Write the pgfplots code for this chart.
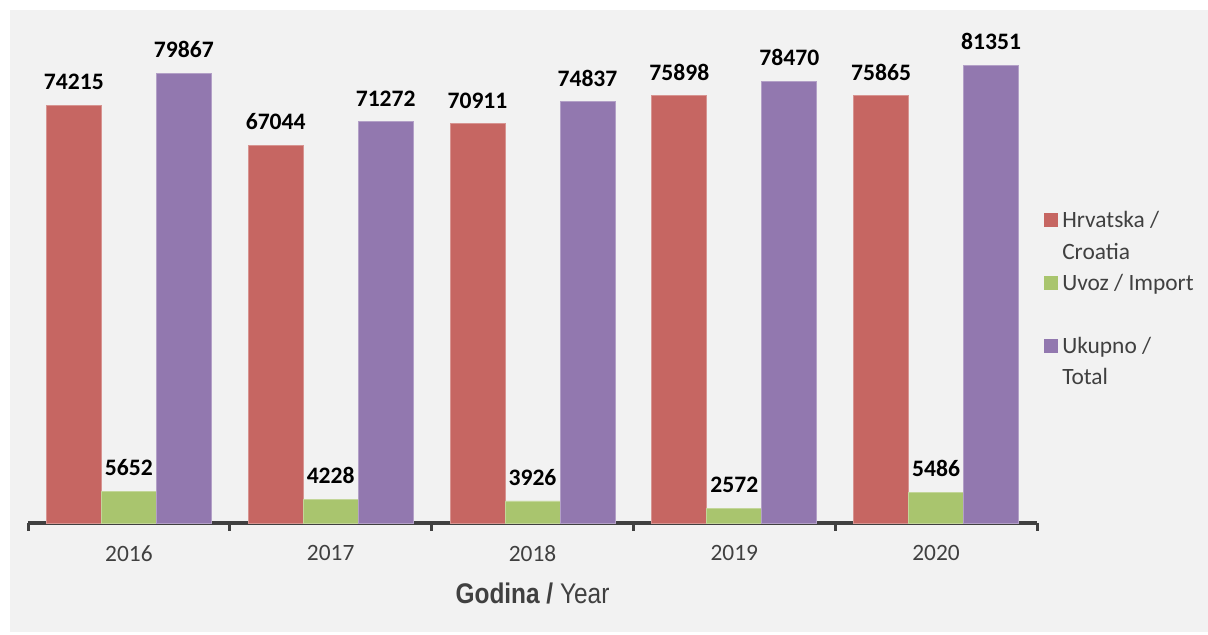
\documentclass[border=0pt]{standalone}
\usepackage{fontspec}
\setmainfont{Carlito}
\newfontfamily\arialfont{Liberation Sans}
\usepackage{pgfplots}
\pgfplotsset{compat=1.18}
\definecolor{bgc}{HTML}{F2F2F2}
\definecolor{axc}{HTML}{404040}
\definecolor{cred}{HTML}{C66662}
\definecolor{cgreen}{HTML}{A9C56E}
\definecolor{cpurple}{HTML}{9278AF}
\begin{document}
\begin{tikzpicture}
\path[use as bounding box] (0,0) rectangle (604pt,317pt);
\fill[white] (0,0) rectangle (604pt,317pt);
\fill[bgc] (5pt,1pt) rectangle (604pt,312pt);
\begin{axis}[
  at={(14pt,55.5pt)}, anchor=south west,
  scale only axis,
  width=504.5pt, height=253.35pt,
  xmin=-0.5, xmax=4.5, ymin=0, ymax=90000,
  enlargelimits=false,
  axis x line=bottom, axis y line=none,
  x axis line style={-, draw=axc, line width=2.4pt},
  xtick={-0.5,0.5,1.5,2.5,3.5,4.5},
  x tick label as interval,
  xticklabels={2016,2017,2018,2019,2020},
  xtick style={draw=axc, line width=1.5pt},
  tick align=outside, major tick length=3.8pt,
  xticklabel style={font=\fontsize{11.7}{14}\selectfont, text=axc, yshift=-4pt},
  xlabel={\scalebox{0.86}[1]{\arialfont\fontsize{14.2}{16}\selectfont\textbf{Godina /} Year}},
  xlabel style={text=axc, yshift=-3.5pt},
  ybar=0pt, bar width=27.5pt,
  nodes near coords,
  every node near coord/.append style={font=\bfseries\fontsize{11.8}{14}\selectfont, text=black, anchor=south, inner sep=0pt, yshift=7.5pt},
  /pgf/number format/.cd, 1000 sep={}, assume math mode=true, /pgfplots/.cd,
  legend style={at={(rel axis cs:1.007,0.623)}, anchor=north west, draw=none, fill=none, inner sep=0pt,
    font=\fontsize{11.7}{15}\selectfont, text=axc, row sep=1.2pt,
    nodes={text height=8pt, text depth=2.5pt},
    cells={anchor=base west}},
]
\addplot[fill=cred, draw=cred!70!white, line width=0.4pt, forget plot, bar shift=-27.5pt] coordinates {(0,74215) (1,67044) (2,70911) (3,75898) (4,75865)};
\addplot[fill=cgreen, draw=cgreen!70!white, line width=0.4pt, forget plot, bar shift=0pt] coordinates {(0,5652) (1,4228) (2,3926) (3,2572) (4,5486)};
\addplot[fill=cpurple, draw=cpurple!70!white, line width=0.4pt, forget plot, bar shift=27.5pt] coordinates {(0,79867) (1,71272) (2,74837) (3,78470) (4,81351)};
\addlegendimage{fill=cred, legend image code/.code={\fill[cred] (0pt,0.5pt) rectangle (6.5pt,7pt);}}
\addlegendentry{Hrvatska /}
\addlegendimage{empty legend}
\addlegendentry{Croatia}
\addlegendimage{fill=cgreen, legend image code/.code={\fill[cgreen] (0pt,0.5pt) rectangle (6.5pt,7pt);}}
\addlegendentry{Uvoz / Import}
\addlegendimage{empty legend}
\addlegendentry{}
\addlegendimage{fill=cpurple, legend image code/.code={\fill[cpurple] (0pt,0.5pt) rectangle (6.5pt,7pt);}}
\addlegendentry{Ukupno /}
\addlegendimage{empty legend}
\addlegendentry{Total}
\end{axis}
\end{tikzpicture}
\end{document}
